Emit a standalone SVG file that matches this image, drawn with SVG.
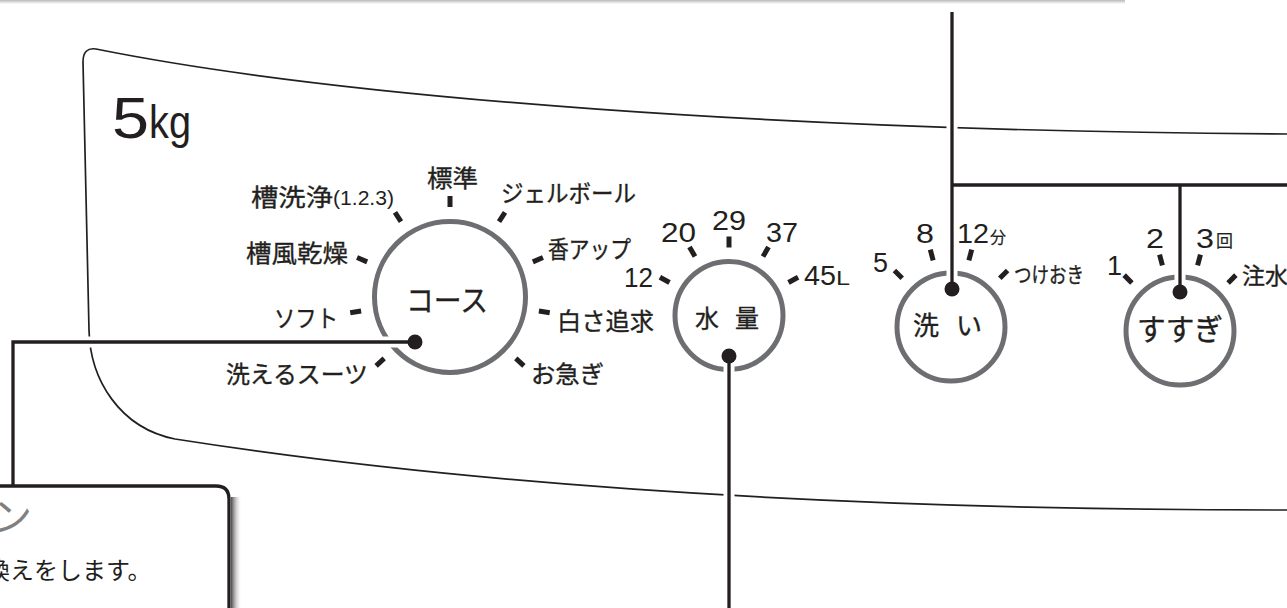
<svg xmlns="http://www.w3.org/2000/svg" width="1287" height="608" viewBox="0 0 1287 608">
<style>
.lbl{font-family:"Noto Sans CJK JP","Noto Sans",sans-serif;fill:#231f20;font-size:24px;stroke:#231f20;stroke-width:0.35px}
.num{font-family:"Liberation Sans",Arial,sans-serif;fill:#231f20;font-size:27px}
.dial{fill:none;stroke:#6d6e71;stroke-width:5}
.tick{stroke:#231f20;stroke-width:5}
.halo{fill:none;stroke:#fff;stroke-width:11}
.conn{fill:none;stroke:#231f20;stroke-width:3.3}
.dot{fill:#231f20}
.panel{fill:none;stroke:#231f20;stroke-width:1.7}
</style>
<defs>
<linearGradient id="topband" x1="0" y1="0" x2="0" y2="1">
<stop offset="0" stop-color="#b9b9b9"/>
<stop offset="1" stop-color="#ffffff"/>
</linearGradient>
<linearGradient id="shadow" x1="0" y1="0" x2="1" y2="0">
<stop offset="0" stop-color="#4a4a4a"/>
<stop offset="1" stop-color="#ffffff" stop-opacity="0"/>
</linearGradient>
</defs>
<rect width="1287" height="608" fill="#fff"/>
<rect x="0" y="0" width="1125" height="4" fill="url(#topband)"/>

<g id="panel">
<path class="panel" d="M1287,134 C787,131 345,99 96,49 Q83,47 83,62 L89,330 C90,380 120,428 175,439 C475,486 837,510 1287,510"/>
<text x="112" y="138" font-family="'Liberation Sans',Arial,sans-serif" font-size="57" fill="#231f20" textLength="37" lengthAdjust="spacingAndGlyphs">5</text>
<text x="149" y="138" font-family="'Liberation Sans',Arial,sans-serif" font-size="46" fill="#231f20" textLength="42" lengthAdjust="spacingAndGlyphs">kg</text>
</g>

<g id="dial-course">
<circle class="dial" cx="450" cy="297" r="75.5"/>
<g>
<line class="tick" x1="450" y1="196" x2="450" y2="207"/>
<line class="tick" x1="450" y1="196" x2="450" y2="207" transform="rotate(33 450 297)"/>
<line class="tick" x1="450" y1="196" x2="450" y2="207" transform="rotate(67 450 297)"/>
<line class="tick" x1="450" y1="196" x2="450" y2="207" transform="rotate(99 450 297)"/>
<line class="tick" x1="450" y1="196" x2="450" y2="207" transform="rotate(133 450 297)"/>
<line class="tick" x1="450" y1="196" x2="450" y2="207" transform="rotate(-33 450 297)"/>
<line class="tick" x1="450" y1="196" x2="450" y2="207" transform="rotate(-67 450 297)"/>
<line class="tick" x1="450" y1="196" x2="450" y2="207" transform="rotate(-99 450 297)"/>
<line class="tick" x1="450" y1="196" x2="450" y2="207" transform="rotate(-133 450 297)"/>
</g>
<text class="lbl" x="406" y="311" style="font-size:30px" textLength="82" lengthAdjust="spacingAndGlyphs">コース</text>
<text class="lbl" x="427" y="186.5" textLength="51" lengthAdjust="spacingAndGlyphs">標準</text>
<text class="lbl" x="501" y="201.5" textLength="135" lengthAdjust="spacingAndGlyphs">ジェルボール</text>
<text class="lbl" x="548" y="258" textLength="83" lengthAdjust="spacingAndGlyphs">香アップ</text>
<text class="lbl" x="557" y="330" textLength="97" lengthAdjust="spacingAndGlyphs">白さ追求</text>
<text class="lbl" x="531" y="383" textLength="73" lengthAdjust="spacingAndGlyphs">お急ぎ</text>
<text class="lbl" x="226" y="383" textLength="142" lengthAdjust="spacingAndGlyphs">洗えるスーツ</text>
<text class="lbl" x="274" y="326.5" textLength="64" lengthAdjust="spacingAndGlyphs">ソフト</text>
<text class="lbl" x="246" y="261.5" textLength="102" lengthAdjust="spacingAndGlyphs">槽風乾燥</text>
<text class="lbl" x="251" y="205.5" textLength="82" lengthAdjust="spacingAndGlyphs">槽洗浄</text>
<text x="333" y="205" font-family="'Liberation Sans',Arial,sans-serif" font-size="20" fill="#231f20" textLength="61" lengthAdjust="spacingAndGlyphs">(1.2.3)</text>
</g>

<g id="dial-water">
<circle class="dial" cx="729" cy="315.5" r="54"/>
<line class="tick" x1="729" y1="236.5" x2="729" y2="247.5"/>
<line class="tick" x1="729" y1="236.5" x2="729" y2="247.5" transform="rotate(30 729 315.5)"/>
<line class="tick" x1="729" y1="236.5" x2="729" y2="247.5" transform="rotate(61 729 315.5)"/>
<line class="tick" x1="729" y1="236.5" x2="729" y2="247.5" transform="rotate(-30 729 315.5)"/>
<line class="tick" x1="729" y1="236.5" x2="729" y2="247.5" transform="rotate(-61 729 315.5)"/>
<text class="lbl" x="695" y="326.5">水 <tspan x="735">量</tspan></text>
<text class="num" x="624" y="287" textLength="29" lengthAdjust="spacingAndGlyphs">12</text>
<text class="num" x="661" y="242" textLength="35" lengthAdjust="spacingAndGlyphs">20</text>
<text class="num" x="712" y="230" textLength="34" lengthAdjust="spacingAndGlyphs">29</text>
<text class="num" x="766" y="242" textLength="32" lengthAdjust="spacingAndGlyphs">37</text>
<text class="num" x="804" y="285" textLength="32" lengthAdjust="spacingAndGlyphs">45</text>
<text class="num" x="836" y="285" style="font-size:20px" textLength="14" lengthAdjust="spacingAndGlyphs">L</text>
</g>

<g id="dial-wash">
<circle class="dial" cx="951" cy="327" r="54"/>
<line class="tick" x1="951" y1="247" x2="951" y2="258" transform="rotate(15 951 327)"/>
<line class="tick" x1="951" y1="247" x2="951" y2="258" transform="rotate(45 951 327)"/>
<line class="tick" x1="951" y1="247" x2="951" y2="258" transform="rotate(-15 951 327)"/>
<line class="tick" x1="951" y1="247" x2="951" y2="258" transform="rotate(-45 951 327)"/>
<text class="lbl" x="913" y="335" style="font-size:26px">洗 <tspan x="956">い</tspan></text>
<text class="num" x="873" y="272" textLength="15" lengthAdjust="spacingAndGlyphs">5</text>
<text class="num" x="916" y="243" textLength="18" lengthAdjust="spacingAndGlyphs">8</text>
<text class="num" x="957" y="243" textLength="32" lengthAdjust="spacingAndGlyphs">12</text>
<text class="lbl" x="990" y="243" style="font-size:16px;stroke-width:0.2px">分</text>
<text class="lbl" x="1014" y="282" style="font-size:21px" textLength="70" lengthAdjust="spacingAndGlyphs">つけおき</text>
</g>

<g id="dial-rinse">
<circle class="dial" cx="1180" cy="331" r="54"/>
<line class="tick" x1="1180" y1="252" x2="1180" y2="263" transform="rotate(15 1180 331)"/>
<line class="tick" x1="1180" y1="252" x2="1180" y2="263" transform="rotate(45 1180 331)"/>
<line class="tick" x1="1180" y1="252" x2="1180" y2="263" transform="rotate(-15 1180 331)"/>
<line class="tick" x1="1180" y1="252" x2="1180" y2="263" transform="rotate(-45 1180 331)"/>
<text class="lbl" x="1137" y="340" style="font-size:30px" textLength="86" lengthAdjust="spacingAndGlyphs">すすぎ</text>
<text class="num" x="1107" y="275">1</text>
<text class="num" x="1146" y="248" textLength="18" lengthAdjust="spacingAndGlyphs">2</text>
<text class="num" x="1196" y="248" textLength="18" lengthAdjust="spacingAndGlyphs">3</text>
<text class="lbl" x="1216" y="247" style="font-size:17px;stroke-width:0.2px">回</text>
<text class="lbl" x="1242" y="284" style="font-size:23px">注水</text>
</g>

<g id="connectors">
<g class="halo">
<path d="M415,342 H13 V478"/>
<path d="M729,356 V608"/>
<path d="M952,289 V12"/>
<path d="M1180,292 V185"/>
</g>
<g class="conn">
<path d="M415,342 H13 V486"/>
<path d="M729,356 V608"/>
<path d="M952,289 V12"/>
<path d="M952,185 H1287"/>
<path d="M1180,292 V185"/>
</g>
<circle class="dot" cx="415" cy="342" r="7.5"/>
<circle class="dot" cx="729" cy="356" r="7.5"/>
<circle class="dot" cx="952" cy="289" r="7.5"/>
<circle class="dot" cx="1180" cy="292" r="7.5"/>
</g>

<g id="callout">
<rect x="231" y="497" width="11" height="120" fill="url(#shadow)"/>
<path d="M-5,486 H216 Q229,486 229,499 V620" fill="#fff" stroke="#231f20" stroke-width="3.3"/>
<text x="-8" y="531" font-family="'Noto Sans CJK JP',sans-serif" font-size="40" fill="#808080">ン</text>
<text x="-14" y="579" font-family="'Noto Sans CJK JP',sans-serif" font-size="24" fill="#231f20">換えをします。</text>
</g>
</svg>
